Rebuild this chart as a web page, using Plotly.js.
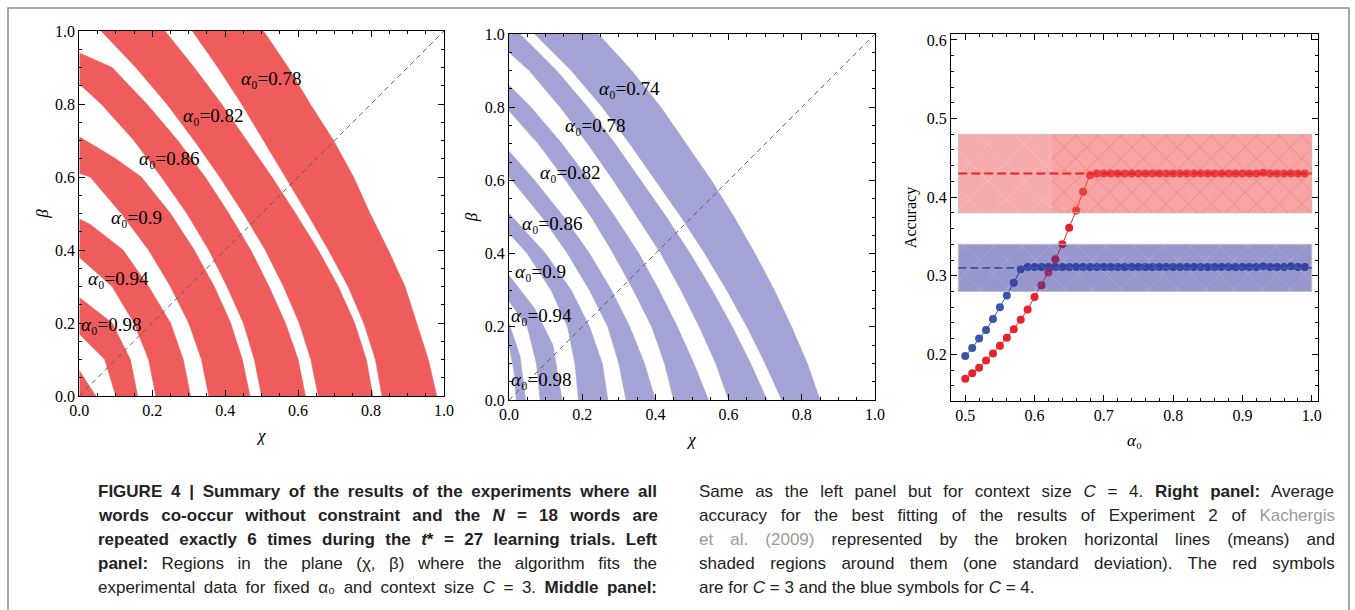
<!DOCTYPE html>
<html><head><meta charset="utf-8">
<script src="https://cdn.plot.ly/plotly-3.0.1.min.js"></script>
<style>html,body{margin:0;padding:0;background:#fff}#chart{width:1355px;height:610px}</style>
</head><body><div id="chart"></div>
<script>
// ===================== DATA =====================
// Right panel: average accuracy vs alpha0
const alpha0 = [0.50,0.51,0.52,0.53,0.54,0.55,0.56,0.57,0.58,0.59,
                0.60,0.61,0.62,0.63,0.64,0.65,0.66,0.67,0.68,0.69,
                0.70,0.71,0.72,0.73,0.74,0.75,0.76,0.77,0.78,0.79,
                0.80,0.81,0.82,0.83,0.84,0.85,0.86,0.87,0.88,0.89,
                0.90,0.91,0.92,0.93,0.94,0.95,0.96,0.97,0.98,0.99];
const accC3 = [0.169,0.176,0.183,0.192,0.201,0.211,0.221,0.232,0.244,0.257,
               0.273,0.288,0.304,0.321,0.340,0.361,0.383,0.407,0.428,0.430,
               0.430,0.430,0.430,0.430,0.430,0.430,0.430,0.430,0.430,0.430,
               0.430,0.430,0.430,0.430,0.430,0.430,0.430,0.430,0.430,0.430,
               0.430,0.430,0.430,0.431,0.430,0.430,0.430,0.430,0.430,0.430];
const accC4 = [0.198,0.208,0.220,0.231,0.245,0.260,0.275,0.291,0.308,0.311,
               0.311,0.311,0.311,0.311,0.311,0.311,0.311,0.311,0.311,0.311,
               0.311,0.311,0.311,0.311,0.311,0.311,0.311,0.311,0.311,0.311,
               0.311,0.311,0.311,0.311,0.311,0.311,0.311,0.311,0.311,0.311,
               0.311,0.311,0.311,0.312,0.311,0.311,0.311,0.312,0.311,0.311];
// Experiment 2 (Kachergis et al. 2009): mean and one standard deviation
const expMean = {C3: 0.43, C4: 0.31};
const expSd   = {C3: 0.05, C4: 0.03};
const expSpan = [0.49, 1.0];

// Left / middle panels: band boundaries [chi, beta], listed from top to bottom
// Left panel (C = 3)
const L1o = [[0.505,1],[0.573,0.9],[0.633,0.8],[0.697,0.7],[0.752,0.6],[0.797,0.5],[0.847,0.4],[0.893,0.3],[0.925,0.2],[0.957,0.1],[0.98,0]];
const L1i = [[0.31,1],[0.38,0.9],[0.445,0.8],[0.505,0.7],[0.565,0.6],[0.625,0.5],[0.683,0.4],[0.737,0.3],[0.78,0.2],[0.812,0.1],[0.83,0]];
const L2o = [[0.235,1],[0.315,0.9],[0.39,0.8],[0.46,0.7],[0.528,0.6],[0.593,0.5],[0.655,0.4],[0.71,0.3],[0.755,0.2],[0.787,0.1],[0.805,0]];
const L2i = [[0.06,1],[0.155,0.9],[0.24,0.8],[0.315,0.7],[0.385,0.6],[0.45,0.5],[0.51,0.4],[0.56,0.3],[0.603,0.2],[0.635,0.1],[0.655,0]];
const L3o = [[0,0.94],[0.09,0.9],[0.185,0.8],[0.27,0.7],[0.345,0.6],[0.41,0.5],[0.47,0.4],[0.52,0.3],[0.565,0.2],[0.60,0.1],[0.62,0]];
const L3i = [[0,0.855],[0.06,0.8],[0.15,0.7],[0.225,0.6],[0.295,0.5],[0.355,0.4],[0.405,0.3],[0.45,0.2],[0.48,0.1],[0.50,0]];
const L4o = [[0,0.71],[0.1,0.65],[0.17,0.6],[0.25,0.5],[0.315,0.4],[0.37,0.3],[0.415,0.2],[0.447,0.1],[0.468,0]];
const L4i = [[0,0.61],[0.03,0.6],[0.115,0.5],[0.19,0.4],[0.25,0.3],[0.30,0.2],[0.335,0.1],[0.355,0]];
const L5o = [[0,0.485],[0.03,0.47],[0.12,0.4],[0.19,0.3],[0.25,0.2],[0.285,0.1],[0.305,0]];
const L5i = [[0,0.38],[0.09,0.3],[0.15,0.2],[0.19,0.1],[0.21,0]];
const L6o = [[0,0.27],[0.09,0.2],[0.14,0.1],[0.16,0]];
const L6i = [[0,0.17],[0.07,0.1],[0.10,0]];
const L7o = [[0,0.07],[0.045,0]];
const L7i = [[0,0]];
// Middle panel (C = 4)
const M1o = [[0.244,1],[0.335,0.9],[0.415,0.8],[0.485,0.7],[0.553,0.6],[0.615,0.5],[0.672,0.4],[0.725,0.3],[0.772,0.2],[0.815,0.1],[0.85,0]];
const M1i = [[0.07,1],[0.17,0.9],[0.255,0.8],[0.33,0.7],[0.40,0.6],[0.47,0.5],[0.535,0.4],[0.595,0.3],[0.65,0.2],[0.70,0.1],[0.745,0]];
const M2o = [[0,1],[0.03,1],[0.13,0.9],[0.215,0.8],[0.29,0.7],[0.36,0.6],[0.43,0.5],[0.495,0.4],[0.555,0.3],[0.61,0.2],[0.66,0.1],[0.705,0]];
const M2i = [[0,0.95],[0.055,0.9],[0.14,0.8],[0.215,0.7],[0.285,0.6],[0.35,0.5],[0.415,0.4],[0.47,0.3],[0.52,0.2],[0.565,0.1],[0.60,0]];
const M3o = [[0,0.86],[0.06,0.8],[0.145,0.7],[0.22,0.6],[0.29,0.5],[0.355,0.4],[0.41,0.3],[0.46,0.2],[0.505,0.1],[0.545,0]];
const M3i = [[0,0.79],[0.08,0.7],[0.155,0.6],[0.225,0.5],[0.285,0.4],[0.34,0.3],[0.39,0.2],[0.425,0.1],[0.45,0]];
const M4o = [[0,0.68],[0.07,0.6],[0.15,0.5],[0.22,0.4],[0.28,0.3],[0.33,0.2],[0.37,0.1],[0.40,0]];
const M4i = [[0,0.61],[0.09,0.5],[0.16,0.4],[0.22,0.3],[0.27,0.2],[0.30,0.1],[0.32,0]];
const M5o = [[0,0.51],[0.1,0.4],[0.17,0.3],[0.22,0.2],[0.255,0.1],[0.27,0]];
const M5i = [[0,0.455],[0.05,0.4],[0.115,0.3],[0.16,0.2],[0.18,0.1],[0.19,0]];
const M6o = [[0,0.34],[0.07,0.25],[0.12,0.15],[0.145,0]];
const M6i = [[0,0.27],[0.05,0.2],[0.075,0.1],[0.085,0]];
const M7o = [[0,0.21],[0.03,0.12],[0.045,0]];
const M7i = [[0,0.15],[0.015,0.07],[0.02,0]];

// band labels: [alpha0 text, chi (left edge of label), beta (centre)]
const leftLabels  = [["0.78",0.439,0.870],["0.82",0.279,0.768],["0.86",0.159,0.651],["0.9",0.082,0.489],["0.94",0.018,0.322],["0.98",0.0,0.195]];
const midLabels   = [["0.74",0.240,0.852],["0.78",0.148,0.751],["0.82",0.080,0.622],["0.86",0.030,0.483],["0.9",0.012,0.351],["0.94",0.001,0.232],["0.98",0.0,0.055]];
const diagonal = [0, 1];

// Caption text
const captionLeft = [
  "<b>FIGURE 4 | Summary of the results of the experiments where all</b>",
  "<b>words co-occur without constraint and the <i>N</i> = 18 words are</b>",
  "<b>repeated exactly 6 times during the <i>t</i>* = 27 learning trials. Left</b>",
  "<b>panel:</b> Regions in the plane (χ, β) where the algorithm fits the",
  "experimental data for fixed α₀ and context size <i>C</i> = 3. <b>Middle panel:</b>"
];
const captionRight = [
  "Same as the left panel but for context size <i>C</i> = 4. <b>Right panel:</b> Average",
  "accuracy for the best fitting of the results of Experiment 2 of <span style=\"color:#9a9a9a\">Kachergis</span>",
  "<span style=\"color:#9a9a9a\">et al. (2009)</span> represented by the broken horizontal lines (means) and",
  "shaded regions around them (one standard deviation). The red symbols",
  "are for <i>C</i> = 3 and the blue symbols for <i>C</i> = 4."
];

// ===================== STYLE =====================
const W = 1355, H = 610;
const RED_BAND = '#ee5c5c', BLUE_BAND = '#a3a3d5';
const serif = 'Liberation Serif, Times New Roman, serif';
const capFamily = "'Liberation Sans', Arial, sans-serif";
const capSize = 17;

const traces = [];
function bandTrace(outer, inner, color, xa, ya) {
  const pts = outer.concat(inner.slice().reverse());
  traces.push({type:'scatter', mode:'lines', x: pts.map(p=>p[0]), y: pts.map(p=>p[1]),
    fill:'toself', fillcolor: color, line:{width:0.6, color: color},
    xaxis: xa, yaxis: ya, hoverinfo:'skip', showlegend:false});
}
[[L1o,L1i],[L2o,L2i],[L3o,L3i],[L4o,L4i],[L5o,L5i],[L6o,L6i],[L7o,L7i]].forEach(b=>bandTrace(b[0],b[1],RED_BAND,'x','y'));
[[M1o,M1i],[M2o,M2i],[M3o,M3i],[M4o,M4i],[M5o,M5i],[M6o,M6i],[M7o,M7i]].forEach(b=>bandTrace(b[0],b[1],BLUE_BAND,'x2','y2'));
[['x','y'],['x2','y2']].forEach(a=>traces.push({type:'scatter', mode:'lines', x: diagonal, y: diagonal,
  line:{color:'#555', width:0.9, dash:'5px,4px'}, xaxis:a[0], yaxis:a[1], hoverinfo:'skip', showlegend:false}));

// Right panel
traces.push({type:'scatter', mode:'lines+markers', x: alpha0, y: accC4, name:'C = 4',
  line:{color:'#3a55a8', width:1}, marker:{color:'#3a55a8', size:8}, xaxis:'x3', yaxis:'y3', showlegend:false});
traces.push({type:'scatter', mode:'lines+markers', x: alpha0, y: accC3, name:'C = 3',
  line:{color:'#e8222a', width:1}, marker:{color:'#e8222a', size:8}, xaxis:'x3', yaxis:'y3', showlegend:false});
function rectTrace(x0, x1, y0, y1, fill, line, pattern) {
  const t = {type:'scatter', mode:'lines', x:[x0,x1,x1,x0,x0], y:[y0,y0,y1,y1,y0], fill:'toself',
    fillcolor: fill, line:{color: line || 'rgba(0,0,0,0)', width: line ? 1 : 0}, xaxis:'x3', yaxis:'y3', hoverinfo:'skip', showlegend:false};
  if (pattern) t.fillpattern = pattern;
  traces.push(t);
}
const hatchStart = 0.625;
rectTrace(expSpan[0], expSpan[1], expMean.C3-expSd.C3, expMean.C3+expSd.C3, 'rgba(238,90,90,0.5)', 'rgba(190,190,190,0.9)');
rectTrace(expSpan[0], hatchStart, expMean.C3-expSd.C3, expMean.C3+expSd.C3, 'rgba(0,0,0,0)', null,
  {shape:'x', fgcolor:'#ffffff', fgopacity:0.35, size:26, solidity:0.05, fillmode:'overlay'});
rectTrace(hatchStart, expSpan[1], expMean.C3-expSd.C3, expMean.C3+expSd.C3, 'rgba(232,60,60,0.08)', null,
  {shape:'x', fgcolor:'#e03a3a', fgopacity:0.45, size:16, solidity:0.07, fillmode:'overlay'});
rectTrace(expSpan[0], expSpan[1], expMean.C4-expSd.C4, expMean.C4+expSd.C4, 'rgba(48,48,155,0.5)', 'rgba(190,190,190,0.9)');
rectTrace(expSpan[0], expSpan[1], expMean.C4-expSd.C4, expMean.C4+expSd.C4, 'rgba(0,0,0,0)', null,
  {shape:'x', fgcolor:'#ffffff', fgopacity:0.3, size:20, solidity:0.05, fillmode:'overlay'});
traces.push({type:'scatter', mode:'lines', x: expSpan, y:[expMean.C3, expMean.C3], line:{color:'#e8222a', width:2, dash:'9px,4px'},
  xaxis:'x3', yaxis:'y3', hoverinfo:'skip', showlegend:false});
traces.push({type:'scatter', mode:'lines', x: expSpan, y:[expMean.C4, expMean.C4], line:{color:'#3a55a8', width:1.6, dash:'8px,4px'},
  xaxis:'x3', yaxis:'y3', hoverinfo:'skip', showlegend:false});

// Axes
function axis(extra) {
  return Object.assign({showline:true, linecolor:'#000', linewidth:1, mirror:'ticks', ticks:'inside',
    ticklen:6, tickwidth:1, tickcolor:'#000', showgrid:false, zeroline:false, fixedrange:true,
    tickfont:{family:serif, size:16, color:'#000'}, automargin:false}, extra);
}
const px = v => v / W, py = v => 1 - v / H;
const layout = {
  width: W, height: H, margin:{l:0,r:0,t:0,b:0}, paper_bgcolor:'#fff', plot_bgcolor:'#fff', showlegend:false,
  font:{family: serif, color:'#000', size:16},
  xaxis: axis({domain:[px(79.3), px(444)], anchor:'y', range:[0,1], dtick:0.2, tickformat:'.1f',
    minor:{ticks:'inside', dtick:0.05, ticklen:3, tickcolor:'#000'},
    title:{text:'<i>χ</i>', font:{family:serif, size:17}, standoff:10}}),
  yaxis: axis({domain:[py(396), py(31)], anchor:'x', range:[0,1], dtick:0.2, tickformat:'.1f',
    minor:{ticks:'inside', dtick:0.05, ticklen:3, tickcolor:'#000'},
    title:{text:'<i>β</i>', font:{family:serif, size:17}, standoff:2}}),
  xaxis2: axis({domain:[px(509), px(875)], anchor:'y2', range:[0,1], dtick:0.2, tickformat:'.1f',
    minor:{ticks:'inside', dtick:0.05, ticklen:3, tickcolor:'#000'},
    title:{text:'<i>χ</i>', font:{family:serif, size:17}, standoff:10}}),
  yaxis2: axis({domain:[py(400), py(34)], anchor:'x2', range:[0,1], dtick:0.2, tickformat:'.1f',
    minor:{ticks:'inside', dtick:0.05, ticklen:3, tickcolor:'#000'},
    title:{text:'<i>β</i>', font:{family:serif, size:17}, standoff:2}}),
  xaxis3: axis({domain:[px(951), px(1318)], anchor:'y3', range:[0.4794, 1.009], dtick:0.1, tick0:0.5, tickformat:'.1f',
    minor:{ticks:'inside', dtick:0.02, ticklen:3, tickcolor:'#000'},
    title:{text:'<i>α</i>₀', font:{family:serif, size:17}, standoff:10}}),
  yaxis3: axis({domain:[py(401), py(34)], anchor:'x3', range:[0.1406, 0.6076], dtick:0.1, tick0:0.2, tickformat:'.1f',
    minor:{ticks:'inside', dtick:0.02, ticklen:3, tickcolor:'#000'},
    title:{text:'Accuracy', font:{family:serif, size:16}, standoff:6}}),
  annotations: [],
  shapes: [{type:'rect', xref:'paper', yref:'paper', x0:px(8), x1:px(1349), y0:-0.05, y1:py(8),
    line:{color:'#8c8c8c', width:1.5}, fillcolor:'rgba(0,0,0,0)', layer:'below'}]
};
leftLabels.forEach(l => layout.annotations.push({xref:'x', yref:'y', x:l[1], y:l[2], xanchor:'left', yanchor:'middle',
  text:'<i>α</i>₀=' + l[0], showarrow:false, font:{family:serif, size:19, color:'#000'}}));
midLabels.forEach(l => layout.annotations.push({xref:'x2', yref:'y2', x:l[1], y:l[2], xanchor:'left', yanchor:'middle',
  text:'<i>α</i>₀=' + l[0], showarrow:false, font:{family:serif, size:19, color:'#000'}}));

// Caption with justified lines
const ctx = document.createElement('canvas').getContext('2d');
function measure(html) {
  let bold=false, ital=false, w=0, spaces=0;
  html.split(/(<[^>]+>)/).forEach(p => {
    if (!p) return;
    if (p[0] === '<') {
      const t = p.toLowerCase();
      if (t === '<b>') bold = true; else if (t === '</b>') bold = false;
      else if (t === '<i>') ital = true; else if (t === '</i>') ital = false;
      return;
    }
    ctx.font = (ital?'italic ':'') + (bold?'bold ':'') + capSize + 'px ' + capFamily;
    w += ctx.measureText(p).width;
    spaces += (p.match(/ /g) || []).length;
  });
  return {w, spaces};
}
function captionColumn(lines, x0, x1, yStart, lastJustified) {
  lines.forEach((line, i) => {
    let text = line;
    if (i < lines.length - 1 || lastJustified) {
      const m = measure(line);
      const ws = Math.max(0, (x1 - x0 - m.w) / Math.max(1, m.spaces));
      text = '<span style="word-spacing:' + ws.toFixed(2) + 'px">' + line + '</span>';
    }
    layout.annotations.push({xref:'paper', yref:'paper', x:px(x0), y:py(yStart + 24*i), xanchor:'left', yanchor:'middle',
      align:'left', showarrow:false, text:text, font:{family:capFamily, size:capSize, color:'#222'}});
  });
}
captionColumn(captionLeft, 96, 655, 491, true);
captionColumn(captionRight, 697, 1333, 491, false);

Plotly.newPlot('chart', traces, layout, {displayModeBar:false, staticPlot:true});
</script></body></html>
